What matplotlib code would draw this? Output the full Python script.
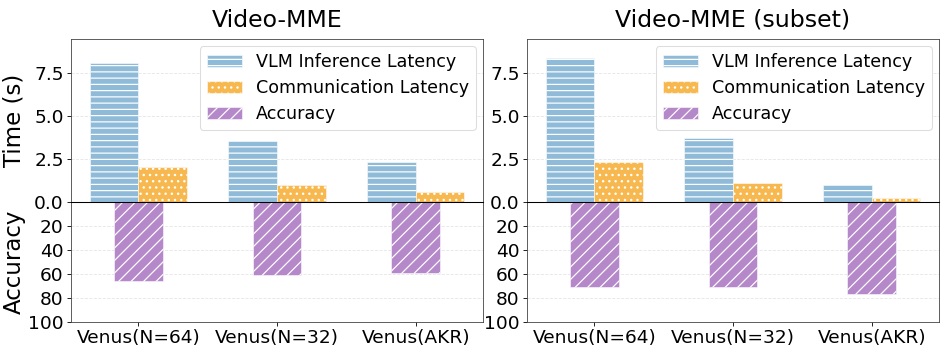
'''Latency vs accuracy for Venus variants on Video-MME'''

import numpy as np
import matplotlib.pyplot as plt

categories = ['Venus(N=64)', 'Venus(N=32)', 'Venus(AKR)']
titles = ['Video-MME', 'Video-MME (subset)']

vlm_latency = [[8.05, 3.52, 2.35], [8.36, 3.74, 0.99]]
comm_latency = [[2.03, 0.99, 0.58], [2.32, 1.11, 0.25]]
accuracy = [[65.5, 60.6, 59.5], [71.2, 71.2, 76.7]]

c_vlm = '#8fbbd9'
c_comm = '#f7b84f'
c_acc = '#b588c9'

# big canvas at a low dpi, so hatch spacing comes out like the original
DPI = 947 / 12.5
S = 100 / DPI   # font scale, sizes below are given as if at 100 dpi

plt.rcParams['hatch.color'] = 'white'
plt.rcParams['hatch.linewidth'] = 1.15

fig = plt.figure(figsize=(12.5, 355 / DPI), dpi=DPI)

lefts = [0.075, 0.5565]
width_ax = 0.435
y_mid = 0.431
h_top = 0.459
h_bot = 0.338

x = np.arange(len(categories))
w = 0.35

for i in range(2):
    ax_b = fig.add_axes([lefts[i], y_mid - h_bot, width_ax, h_bot])
    ax_t = fig.add_axes([lefts[i], y_mid, width_ax, h_top], sharex=ax_b)
    ax_t.patch.set_alpha(0)

    b1 = ax_t.bar(x - w / 2, vlm_latency[i], w, color=c_vlm, edgecolor='white',
                  hatch='--', linewidth=0.5, label='VLM Inference Latency')
    b2 = ax_t.bar(x + w / 2, comm_latency[i], w, color=c_comm, edgecolor='white',
                  hatch='..', linewidth=0.5, label='Communication Latency')
    b3 = ax_b.bar(x, accuracy[i], w, color=c_acc, edgecolor='white',
                  hatch='//', linewidth=0.5, label='Accuracy')

    ax_t.set_ylim(0, 9.47)
    ax_t.set_yticks([0, 2.5, 5.0, 7.5])
    ax_t.set_yticklabels(['0.0', '2.5', '5.0', '7.5'])
    ax_b.set_ylim(100, 0)
    ax_b.set_yticks([20, 40, 60, 80, 100])

    for ax in (ax_t, ax_b):
        ax.yaxis.grid(True, linestyle='--', color='#e6e6e6', linewidth=0.8)
        ax.set_axisbelow(True)
        ax.tick_params(labelsize=13.4 * S)
        for s in ax.spines.values():
            s.set_color('#444444')

    ax_t.spines['bottom'].set_color('black')
    ax_t.spines['bottom'].set_linewidth(1.0)
    ax_b.spines['top'].set_visible(False)
    ax_t.tick_params(axis='x', bottom=False, labelbottom=False)

    ax_b.set_xticks(x)
    ax_b.set_xticklabels(categories, fontsize=13.4 * S)

    ax_t.set_title(titles[i], fontsize=17 * S, pad=9 * S)

    if i == 0:
        ax_t.set_ylabel('Time (s)', fontsize=16.5 * S)
        ax_b.set_ylabel('Accuracy', fontsize=16.5 * S)
        ax_t.yaxis.set_label_coords(-0.11, 0.5)
        ax_b.yaxis.set_label_coords(-0.11, 0.5)

    ax_t.legend(handles=[b1, b2, b3], loc='upper right', fontsize=12.6 * S,
                handlelength=2.0, framealpha=1.0, edgecolor='#dddddd',
                borderaxespad=0.4, labelspacing=0.45)

fig.savefig('out.png', dpi=DPI)
